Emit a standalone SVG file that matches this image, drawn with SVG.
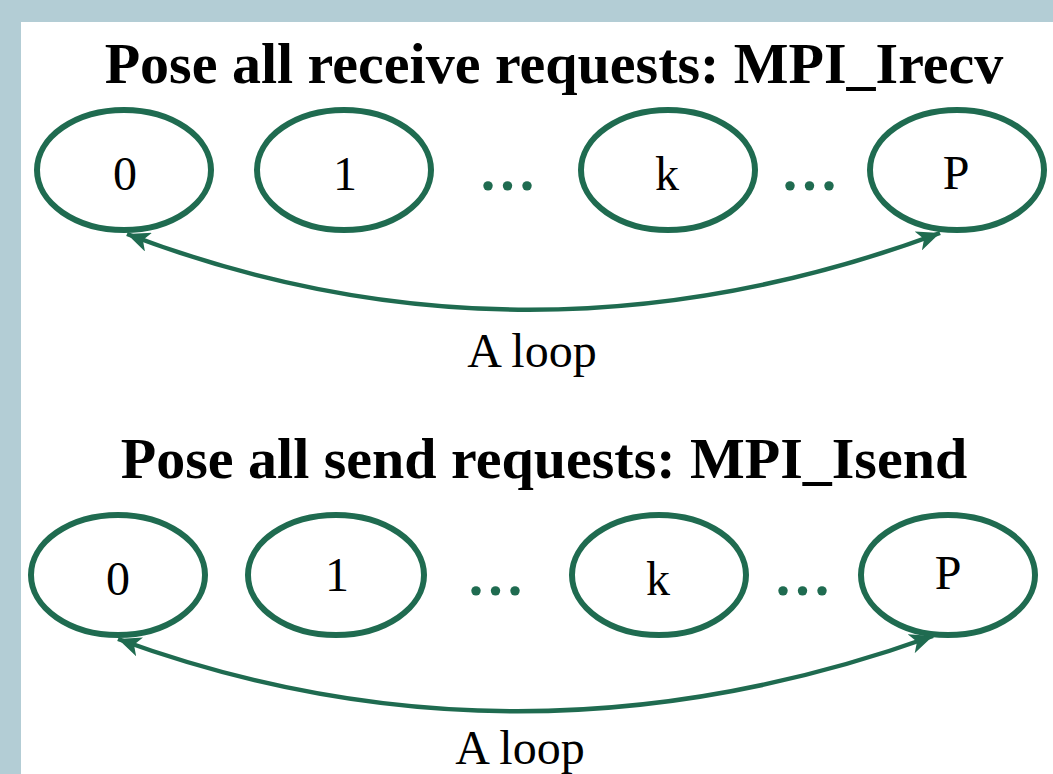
<svg xmlns="http://www.w3.org/2000/svg" width="1053" height="774" viewBox="0 0 1053 774">
  <style>
    .node ellipse { fill: #ffffff; stroke: #1f6b50; stroke-width: 6; }
    .lbl { font-family: "Liberation Serif", "Times New Roman", serif; font-size: 48px; fill: #000000; text-anchor: middle; }
    .title { font-family: "Liberation Serif", "Times New Roman", serif; font-size: 58px; font-weight: bold; fill: #000000; text-anchor: middle; }
    .dots { font-family: "Liberation Serif", "Times New Roman", serif; font-size: 58px; font-weight: bold; fill: #1f6b50; text-anchor: middle; letter-spacing: 5px; }
    .conn { fill: none; stroke: #1f6b50; stroke-width: 4.5; marker-start: url(#arrow); marker-end: url(#arrow); }
  </style>
  <defs>
    <marker id="arrow" markerUnits="userSpaceOnUse" markerWidth="24" markerHeight="20" viewBox="0 0 24 20" refX="23" refY="10" orient="auto-start-reverse">
      <path d="M0,0 L23,10 L0,20 L6,10 z" fill="#1f6b50"/>
    </marker>
  </defs>
  <rect x="0" y="0" width="1053" height="774" fill="#b3cdd5"/>
  <rect x="21" y="22" width="1032" height="752" fill="#ffffff"/>

  <text id="title1" class="title" x="554" y="83">Pose all receive requests: MPI_Irecv</text>
  <text id="title2" class="title" x="544" y="478">Pose all send requests: MPI_Isend</text>

  <g id="connectors">
    <path id="loop1" class="conn" d="M127,234 Q527,386 940,233"/>
    <path id="loop2" class="conn" d="M118,639 Q518,785 933,636"/>
  </g>

  <g id="recv0" class="node"><ellipse cx="124" cy="170" rx="87" ry="60"/><text class="lbl" x="125" y="190">0</text></g>
  <g id="recv1" class="node"><ellipse cx="344" cy="170" rx="87" ry="60"/><text class="lbl" x="345" y="190">1</text></g>
  <g id="recvk" class="node"><ellipse cx="668" cy="170" rx="87" ry="60"/><text class="lbl" x="667" y="190">k</text></g>
  <g id="recvP" class="node"><ellipse cx="957" cy="170" rx="87" ry="60"/><text class="lbl" x="956" y="189">P</text></g>
  <text id="dots1" class="dots" x="510" y="190">...</text>
  <text id="dots2" class="dots" x="812" y="190">...</text>
  <text id="loopLabel1" class="lbl" x="532" y="367">A loop</text>

  <g id="send0" class="node"><ellipse cx="118" cy="575" rx="87" ry="60"/><text class="lbl" x="118" y="595">0</text></g>
  <g id="send1" class="node"><ellipse cx="336" cy="575" rx="88" ry="60"/><text class="lbl" x="337" y="591">1</text></g>
  <g id="sendk" class="node"><ellipse cx="659" cy="575" rx="87" ry="60"/><text class="lbl" x="658" y="595">k</text></g>
  <g id="sendP" class="node"><ellipse cx="948" cy="575" rx="87" ry="60"/><text class="lbl" x="948" y="589">P</text></g>
  <text id="dots3" class="dots" x="498" y="595">...</text>
  <text id="dots4" class="dots" x="805" y="595">...</text>
  <text id="loopLabel2" class="lbl" x="520" y="764">A loop</text>
</svg>
